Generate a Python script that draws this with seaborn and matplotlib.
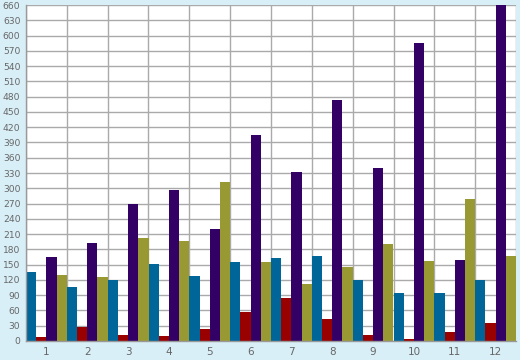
import numpy as np
import pandas as pd
import matplotlib
matplotlib.use("Agg")
import matplotlib.pyplot as plt
import seaborn as sns
from matplotlib.ticker import MultipleLocator, FixedLocator

categories = ["1", "2", "3", "4", "5", "6", "7", "8", "9", "10", "11", "12"]
series_names = ["A", "B", "C", "D"]
blue = [135, 106, 120, 151, 128, 155, 163, 167, 120, 94, 94, 120]
red = [7, 28, 12, 10, 24, 57, 84, 43, 12, 4, 18, 35]
purple = [165, 193, 269, 297, 220, 405, 332, 473, 340, 585, 159, 660]
olive = [130, 126, 202, 196, 312, 155, 112, 145, 191, 157, 279, 167]
colors = ["#006699", "#990000", "#330066", "#999933"]

rows = []
for name, vals in zip(series_names, [blue, red, purple, olive]):
    for c, v in zip(categories, vals):
        rows.append({"cat": c, "series": name, "value": v})
df = pd.DataFrame(rows)

sns.set_style("white")
plt.rcParams['font.family'] = ['DejaVu Sans']

fig = plt.figure(figsize=(5.2, 3.6), dpi=100, facecolor="#d9eff7")
ax = fig.add_axes([26/520, 19/360, 490/520, 336/360])
ax.set_facecolor("white")

sns.barplot(data=df, x="cat", y="value", hue="series", order=categories,
            hue_order=series_names, palette=colors, width=1.0, gap=0,
            saturation=1, legend=False, ax=ax,
            errorbar=None, linewidth=0, edgecolor="none")

ax.set_xlim(-0.5, 11.5)
ax.set_ylim(0, 660)
ax.yaxis.set_major_locator(MultipleLocator(30))
ax.xaxis.set_major_locator(FixedLocator(range(12)))
ax.xaxis.set_minor_locator(FixedLocator(np.arange(-0.5, 12, 1)))
ax.set_xticklabels(categories)
ax.grid(True, axis="y", which="major", color="#aaaaaa", linewidth=1)
ax.grid(True, axis="x", which="minor", color="#aaaaaa", linewidth=1)
ax.grid(False, axis="x", which="major")
ax.set_axisbelow(True)
ax.tick_params(axis="x", which="major", length=0, labelsize=7.5, colors="#666666", pad=4)
ax.tick_params(axis="x", which="minor", length=5, color="#888888", direction="out")
ax.tick_params(axis="y", which="major", length=3, color="#888888", labelsize=6.6,
               labelcolor="#666666", pad=1)
ax.set_xlabel("")
ax.set_ylabel("")
for s in ["left", "bottom"]:
    ax.spines[s].set_color("#999999")
    ax.spines[s].set_linewidth(1)
for s in ["top", "right"]:
    ax.spines[s].set_visible(False)

fig.savefig("out.png", dpi=100, facecolor=fig.get_facecolor())
